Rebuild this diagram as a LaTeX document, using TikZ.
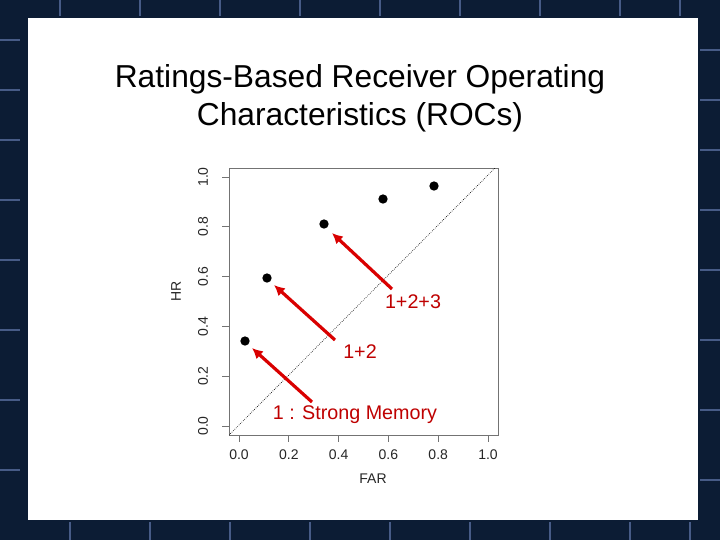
\documentclass[tikz,border=0pt]{standalone}
\usepackage{fontspec}
\setmainfont{Liberation Sans}
\usetikzlibrary{arrows.meta}
\begin{document}
\begin{tikzpicture}[x=0.75pt,y=-0.75pt,
  pt/.style={circle,fill=black,inner sep=0pt,minimum size=7pt},
  arr/.style={red!85!black,line width=2.4pt,-{Latex[length=8pt,width=8pt]}},
  lab/.style={text=red!75!black,font=\fontsize{14.8}{16}\selectfont},
  tick/.style={font=\fontsize{10.5}{12}\selectfont,text=black!85},
  ax/.style={draw=black!55,line width=0.6pt}]
\useasboundingbox (0,0) rectangle (720,540);
\fill[fill={rgb,255:red,12;green,28;blue,52}] (0,0) rectangle (720,540);
\foreach \y in {40,90,140,200,260,330,400,470}{
  \draw[cyan!40!blue!60!black,line width=1pt] (0,\y) -- (20,\y);
  \draw[cyan!40!blue!60!black,line width=1pt] (700,\y+10) -- (720,\y+10);}
\foreach \x in {60,140,220,300,380,460,540,620,680}{
  \draw[cyan!40!blue!60!black,line width=1pt] (\x,0) -- (\x,16);
  \draw[cyan!40!blue!60!black,line width=1pt] (\x+10,522) -- (\x+10,540);}
\fill[white] (28,18) rectangle (698,520);
\node[font=\fontsize{23.8}{28.5}\selectfont,align=center] (title) at (360,98) {Ratings-Based Receiver Operating\\Characteristics (ROCs)};
% plot box
\draw[ax] (229,168) rectangle (498,435);
\begin{scope}
\clip (229,168) rectangle (498,435);
\draw[black,line width=0.5pt,densely dotted] (238-0.2*250,426+0.2*251) -- (238+1.2*250,426-1.2*251);
\end{scope}
\foreach \v/\l in {0/0.0,1/0.2,2/0.4,3/0.6,4/0.8,5/1.0}{
  \draw[ax] (229,426-\v*49.8) -- (222,426-\v*49.8);
  \node[tick,rotate=90] (yt\v) at (203,426-\v*49.8) {\l};}
\foreach \v/\l in {0/0.0,1/0.2,2/0.4,3/0.6,4/0.8,5/1.0}{
  \draw[ax] (239+\v*49.8,435) -- (239+\v*49.8,442);
  \node[tick] (xt\v) at (239+\v*49.8,455) {\l};}
\node[tick,rotate=90] (hr) at (176,291) {HR};
\node[tick] (far) at (373,479) {FAR};
% points
\node[pt] (p1) at (245,341) {};
\node[pt] (p2) at (267,278) {};
\node[pt] (p3) at (324,224) {};
\node[pt] (p4) at (383,199) {};
\node[pt] (p5) at (434,186) {};
% arrows
\coordinate (a1) at (312,402); \coordinate (b1) at (252,348);
\coordinate (a2) at (335,340); \coordinate (b2) at (274,285);
\coordinate (a3) at (392,289); \coordinate (b3) at (332,233);
\draw[arr] (a1) -- (b1);
\draw[arr] (a2) -- (b2);
\draw[arr] (a3) -- (b3);
\node[lab] (l1) at (355,415) {1 : Strong Memory};
\node[lab] (l2) at (360,352) {1+2};
\node[lab] (l3) at (413,302) {1+2+3};
\end{tikzpicture}
\end{document}
